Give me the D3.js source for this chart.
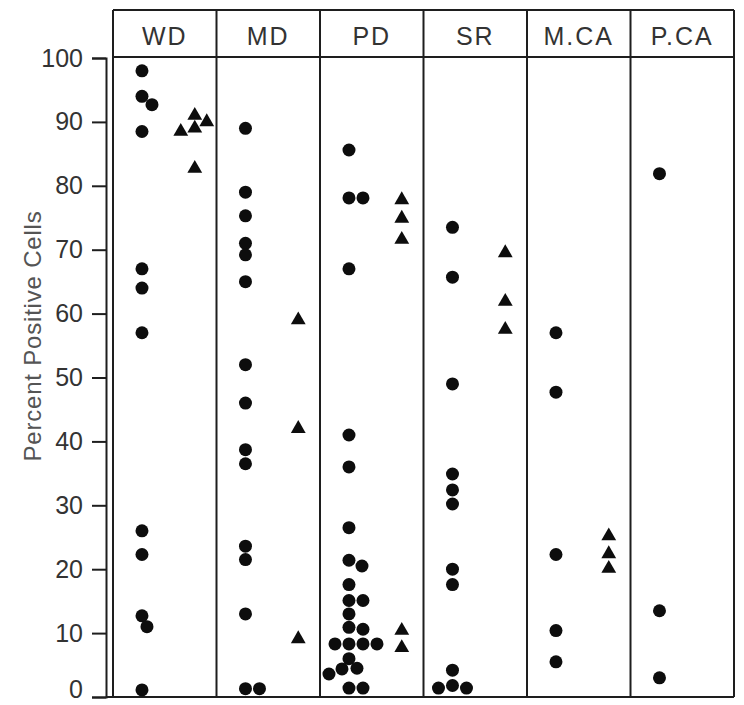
<!DOCTYPE html>
<html>
<head>
<meta charset="utf-8">
<script src="https://cdn.jsdelivr.net/npm/d3@7"></script>
<style>
  body { margin: 0; background: #fff; }
  svg { display: block; }
</style>
</head>
<body>
<div id="chart"></div>
<script>

// Set dimensions for the plot
const width = 744;
const height = 705;
const margin = {left: 113, right: 10, top: 10, bottom: 7};
const headerBottom = 57;

// Column categories and y tick labels
const categories = ["WD", "MD", "PD", "SR", "M.CA", "P.CA"];
const yTicks = [0, 10, 20, 30, 40, 50, 60, 70, 80, 90, 100];

// Percent positive cells, circles and triangles for each column
const dotsWD = [98, 94, 92.7, 88.5, 67, 64, 57, 26, 22.3, 12.7, 11, 1.1];
const triWD = [91, 90, 89, 88.5, 82.7];
const dotsMD = [89, 79, 75.3, 71, 69.2, 65, 52, 46, 38.7, 36.5, 23.6, 21.5, 13, 1.3, 1.3];
const triMD = [59, 42, 9.1];
const dotsPD = [85.6, 78.1, 78.1, 67, 41, 36, 26.5, 21.4, 20.5, 17.6, 15.1, 15.1, 13, 10.9, 10.6,
                8.3, 8.3, 8.3, 8.3, 6, 4.5, 4.4, 3.6, 1.4, 1.4];
const triPD = [77.8, 74.9, 71.6, 10.4, 7.7];
const dotsSR = [73.5, 65.7, 49, 34.9, 32.4, 30.2, 20, 17.6, 4.2, 1.8, 1.4, 1.4];
const triSR = [69.5, 61.9, 57.5];
const dotsMCA = [57, 47.7, 22.3, 10.4, 5.5];
const triMCA = [25.2, 22.4, 20.1];
const dotsPCA = [81.9, 13.5, 3];
const triPCA = [];

// Build the groups from the arrays above
const groups = [
  {cat: "WD", dots: dotsWD, tris: triWD},
  {cat: "MD", dots: dotsMD, tris: triMD},
  {cat: "PD", dots: dotsPD, tris: triPD},
  {cat: "SR", dots: dotsSR, tris: triSR},
  {cat: "M.CA", dots: dotsMCA, tris: triMCA},
  {cat: "P.CA", dots: dotsPCA, tris: triPCA}
];

const svg = d3.select("#chart")
  .append("svg")
  .attr("width", width)
  .attr("height", height);

// Scales
const xScale = d3.scaleBand()
  .domain(categories)
  .range([margin.left, width - margin.right])
  .padding(0);

const yScale = d3.scaleLinear()
  .domain([0, 100])
  .range([height - margin.bottom - 1, 58]);

const bottomY = yScale(0);
const ink = "#1e1e1e";

// Y axis, bracket shaped domain comes from the outer ticks
const yAxis = svg.append("g")
  .attr("transform", "translate(106,0)")
  .call(d3.axisLeft(yScale).tickValues(yTicks).tickSize(14).tickPadding(9));

yAxis.selectAll("path, line")
  .attr("stroke", ink)
  .attr("stroke-width", 2);
yAxis.selectAll("text")
  .attr("font-family", "'Liberation Sans', Arial, sans-serif")
  .attr("font-size", "25px")
  .attr("fill", "#333");
// keep the bottom label inside the picture
yAxis.selectAll("text")
  .filter(d => d === 0)
  .attr("dy", "0");

// Axis title
svg.append("text")
  .attr("transform", "translate(41,336) rotate(-90)")
  .attr("text-anchor", "middle")
  .attr("font-family", "'Liberation Sans', Arial, sans-serif")
  .attr("font-size", "24px")
  .attr("letter-spacing", "0.8px")
  .attr("fill", "#555")
  .text("Percent Positive Cells");

// Frame: top, header line, bottom
const frame = svg.append("g")
  .attr("stroke", ink)
  .attr("stroke-width", 2);

[margin.top, headerBottom].forEach(y => {
  frame.append("line")
    .attr("x1", margin.left).attr("x2", width - margin.right)
    .attr("y1", y).attr("y2", y);
});

frame.append("line")
  .attr("x1", 106).attr("x2", width - margin.right)
  .attr("y1", bottomY).attr("y2", bottomY);

// Column dividers
const edges = categories.map(c => xScale(c)).concat([xScale.range()[1]]);
frame.selectAll(".divider")
  .data(edges)
  .enter()
  .append("line")
    .attr("class", "divider")
    .attr("x1", d => d).attr("x2", d => d)
    .attr("y1", margin.top).attr("y2", bottomY);

// Column headers
svg.selectAll(".header")
  .data(categories)
  .enter()
  .append("text")
    .attr("class", "header")
    .attr("x", d => xScale(d) + xScale.bandwidth() / 2)
    .attr("y", 45)
    .attr("text-anchor", "middle")
    .attr("font-family", "'Liberation Sans', Arial, sans-serif")
    .attr("font-size", "25px")
    .attr("letter-spacing", "2px")
    .attr("fill", "#333")
    .text(d => d);

// Simple dodge so marks with close values sit side by side
// (marks may stack a little tighter vertically than horizontally)
const gapX = 14;
const gapY = 11.5;
function dodge(values, cx) {
  const placed = [];
  values.slice().sort((a, b) => b - a).forEach(v => {
    const cy = yScale(v);
    for (let k = 0; k < 80; k++) {
      const tries = k === 0 ? [0] : [k, -k];
      const ok = tries.find(dx => placed.every(p => {
        const ex = (p.x - (cx + dx)) / gapX;
        const ey = (p.y - cy) / gapY;
        return ex * ex + ey * ey >= 1;
      }));
      if (ok !== undefined) {
        placed.push({x: cx + ok, y: cy, v: v});
        break;
      }
    }
  });
  return placed;
}

const bw = xScale.bandwidth();
const dotPoints = [];
const triPoints = [];
groups.forEach(g => {
  dodge(g.dots, xScale(g.cat) + bw * 0.28).forEach(p => dotPoints.push(p));
  dodge(g.tris, xScale(g.cat) + bw * 0.79).forEach(p => triPoints.push(p));
});

// Circles
svg.selectAll(".dot")
  .data(dotPoints)
  .enter()
  .append("circle")
    .attr("class", "dot")
    .attr("cx", d => d.x)
    .attr("cy", d => d.y)
    .attr("r", 6.5)
    .attr("fill", "#0d0d0d");

// Triangles
svg.selectAll(".tri")
  .data(triPoints)
  .enter()
  .append("path")
    .attr("class", "tri")
    .attr("transform", d => `translate(${d.x},${d.y})`)
    .attr("d", d3.symbol(d3.symbolTriangle, 95))
    .attr("fill", "#0d0d0d");

</script>
</body>
</html>
